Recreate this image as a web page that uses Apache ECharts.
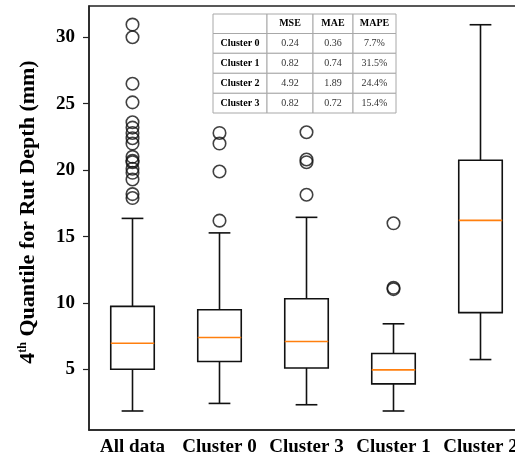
<!DOCTYPE html>
<html>
<head>
<meta charset="utf-8">
<script src="https://cdn.jsdelivr.net/npm/echarts@6/dist/echarts.min.js"></script>
<style>html,body{margin:0;padding:0;background:#fff;}#c{width:515px;height:461px;}</style>
</head>
<body>
<div id="c"></div>
<script>
const categories = ['All data', 'Cluster 0', 'Cluster 3', 'Cluster 1', 'Cluster 2'];
const whiskerLow  = [1.88, 2.45, 2.35, 1.88, 5.75];
const q1          = [5.02, 5.60, 5.12, 3.92, 9.28];
const median      = [6.98, 7.41, 7.11, 4.97, 16.22];
const q3          = [9.75, 9.50, 10.33, 6.20, 20.75];
const whiskerHigh = [16.37, 15.28, 16.45, 8.44, 30.94];
const outliersAll = [30.95, 30.0, 26.5, 25.1, 23.6, 23.2, 22.8, 22.4, 22.0, 21.0, 20.7, 20.6, 20.1, 19.8, 19.3, 18.2, 17.9];
const outliersC0 = [22.8, 22.0, 19.9, 16.2];
const outliersC3 = [22.85, 20.8, 20.6, 18.15];
const outliersC1 = [16.0, 11.15, 11.05];
const outliersC2 = [];
const yTicks = [5, 10, 15, 20, 25, 30];

const tableHeader = ['', 'MSE', 'MAE', 'MAPE'];
const tableRows = ['Cluster 0', 'Cluster 1', 'Cluster 2', 'Cluster 3'];
const tableMSE = ['0.24', '0.82', '4.92', '0.82'];
const tableMAE = ['0.36', '0.74', '1.89', '0.72'];
const tableMAPE = ['7.7%', '31.5%', '24.4%', '15.4%'];

const FONT = '"Liberation Serif", "DejaVu Serif", serif';

const boxData = categories.map((c, i) => [i, whiskerLow[i], q1[i], median[i], q3[i], whiskerHigh[i]]);
const outlierSets = [outliersAll, outliersC0, outliersC3, outliersC1, outliersC2];
const outlierData = [];
outlierSets.forEach((arr, i) => arr.forEach(v => outlierData.push([i, v])));

// table graphic
const colX = [213, 267, 313, 353, 396];
const rowY = [14, 33.5, 53.3, 73.3, 93.3, 113];
const cells = [];
const tableCols = [tableRows, tableMSE, tableMAE, tableMAPE];
for (let r = 0; r < 5; r++) {
  for (let c = 0; c < 4; c++) {
    let txt, bold;
    if (r === 0) { txt = tableHeader[c]; bold = true; }
    else { txt = tableCols[c][r - 1]; bold = (c === 0); }
    cells.push({
      type: 'rect',
      shape: { x: colX[c], y: rowY[r], width: colX[c + 1] - colX[c], height: rowY[r + 1] - rowY[r] },
      style: { fill: '#fff', stroke: '#a8a8a8', lineWidth: 1 },
      z: 100
    });
    cells.push({
      type: 'text',
      x: (colX[c] + colX[c + 1]) / 2,
      y: (rowY[r] + rowY[r + 1]) / 2,
      style: {
        text: txt, fontFamily: FONT, fontSize: 10, fontWeight: bold ? 'bold' : 'normal',
        fill: bold ? '#000' : '#333', align: 'center', verticalAlign: 'middle'
      },
      z: 101
    });
  }
}

const chart = echarts.init(document.getElementById('c'), null, { renderer: 'canvas' });
chart.setOption({
  backgroundColor: '#fff',
  animation: false,
  grid: { left: 89, top: 6, width: 435, height: 424, outerBoundsMode: 'none', containLabel: false, show: true, borderColor: '#222', borderWidth: 1.5, backgroundColor: 'transparent' },
  xAxis: {
    type: 'category',
    data: categories,
    boundaryGap: true,
    axisLine: { lineStyle: { color: '#222', width: 1.5 } },
    axisTick: { alignWithLabel: true, length: 5, lineStyle: { color: '#222', width: 1.2 } },
    axisLabel: { fontFamily: FONT, fontWeight: 'bold', fontSize: 19, color: '#000', margin: 8, interval: 0, hideOverlap: false },
    splitLine: { show: false }
  },
  yAxis: {
    type: 'value',
    min: 0.45,
    max: 32.35,
    axisLine: { show: true, lineStyle: { color: '#222', width: 1.5 } },
    axisTick: { show: true, length: 6, customValues: yTicks, lineStyle: { color: '#222', width: 1.2 } },
    axisLabel: { customValues: yTicks, fontFamily: FONT, fontWeight: 'bold', fontSize: 19, color: '#000', margin: 14 },
    splitLine: { show: false },
    name: '{n|4}{s|th}{n| Quantile for Rut Depth (mm)}',
    nameLocation: 'middle',
    nameGap: 50,
    nameTextStyle: {
      padding: [0, 0, 0, 12],
      rich: {
        n: { fontFamily: FONT, fontWeight: 'bold', fontSize: 22, color: '#000' },
        s: { fontFamily: FONT, fontWeight: 'bold', fontSize: 12, color: '#000', verticalAlign: 'top' }
      }
    }
  },
  series: [
    {
      type: 'custom',
      data: boxData,
      encode: { x: 0, y: [1, 2, 3, 4, 5] },
      renderItem: function (params, api) {
        const x = api.value(0);
        const pLow = api.coord([x, api.value(1)]);
        const pQ1 = api.coord([x, api.value(2)]);
        const pMed = api.coord([x, api.value(3)]);
        const pQ3 = api.coord([x, api.value(4)]);
        const pHigh = api.coord([x, api.value(5)]);
        const band = api.size([1, 0])[0];
        const hw = band * 0.25;
        const cw = band * 0.125;
        const cx = pQ1[0];
        const ls = { stroke: '#111', lineWidth: 1.6, fill: null };
        return {
          type: 'group',
          children: [
            { type: 'line', shape: { x1: cx, y1: pLow[1], x2: cx, y2: pQ1[1] }, style: ls },
            { type: 'line', shape: { x1: cx, y1: pQ3[1], x2: cx, y2: pHigh[1] }, style: ls },
            { type: 'line', shape: { x1: cx - cw, y1: pLow[1], x2: cx + cw, y2: pLow[1] }, style: ls },
            { type: 'line', shape: { x1: cx - cw, y1: pHigh[1], x2: cx + cw, y2: pHigh[1] }, style: ls },
            { type: 'rect', shape: { x: cx - hw, y: pQ3[1], width: 2 * hw, height: pQ1[1] - pQ3[1] }, style: { stroke: '#111', lineWidth: 1.6, fill: 'none' } },
            { type: 'line', shape: { x1: cx - hw, y1: pMed[1], x2: cx + hw, y2: pMed[1] }, style: { stroke: '#ff7f0e', lineWidth: 1.6 } }
          ]
        };
      }
    },
    {
      type: 'scatter',
      data: outlierData,
      symbol: 'circle',
      symbolSize: 12.5,
      itemStyle: { color: 'rgba(0,0,0,0)', borderColor: '#111', borderWidth: 1.6 }
    }
  ],
  graphic: cells
});
</script>
</body>
</html>
